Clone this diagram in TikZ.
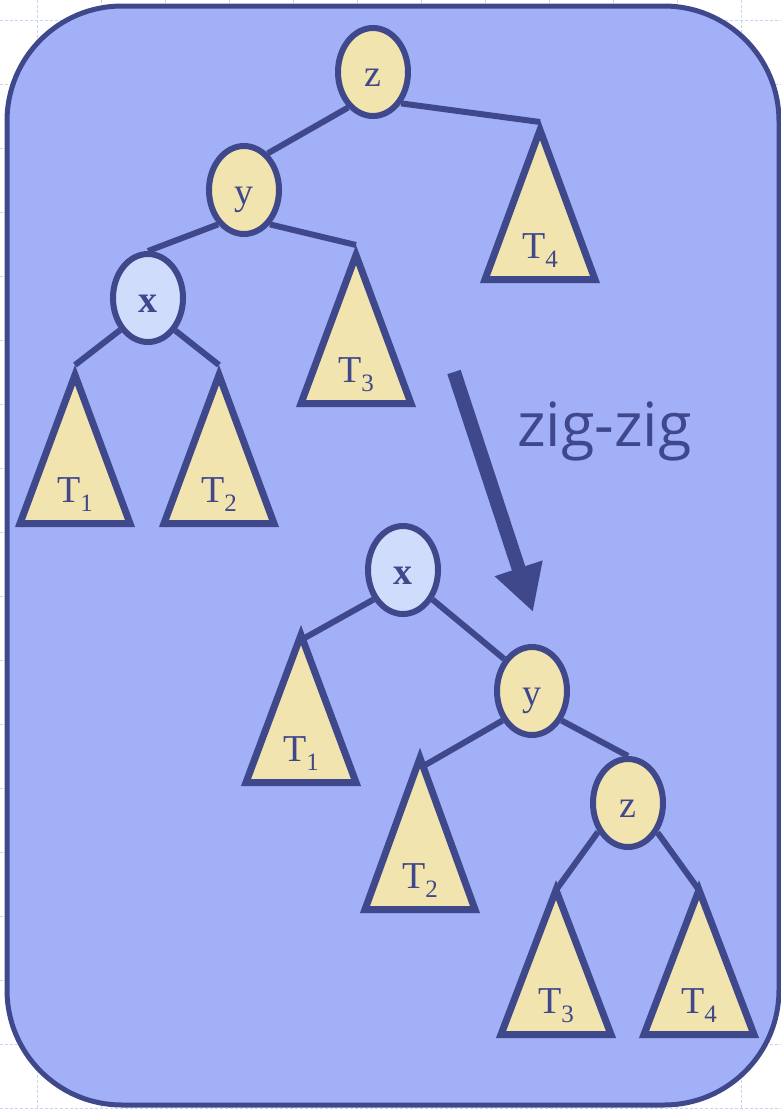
\documentclass[tikz,border=0pt]{standalone}
\usepackage{fontspec}
\setmainfont{Liberation Serif}
\newfontfamily\zigfont{Open Sans}
\usetikzlibrary{shapes.geometric,arrows.meta}

\definecolor{panel}{HTML}{A1B0F7}
\definecolor{ink}{HTML}{40488C}
\definecolor{sand}{HTML}{F2E4AE}
\definecolor{pale}{HTML}{D0DCFC}
\definecolor{gridc}{HTML}{C8D2F8}

\pgfdeclarelayer{back}
\pgfdeclarelayer{wires}
\pgfsetlayers{back,wires,main}

% subscript of a subtree label
\newcommand\lowidx[1]{\raisebox{-9pt}{\fontsize{25}{26}\selectfont #1}}

% subtree triangle: name, centre x, apex y, base y, index, edge attach depth
\newcommand\subtree[6]{%
  \coordinate (#1) at (#2,#3);
  \coordinate (#1-in) at (#2,#3+#6);
  \draw[tri] (#2,#3+10) -- (#2-55,#4-3.5) -- (#2+55,#4-3.5) -- cycle;
  \node[tlabel] (#1-lbl) at (#2,#4-25) {T\lowidx{#5}};
}

\tikzset{
  key/.style={ellipse, draw=ink, line width=6pt, fill=sand,
    minimum width=70pt, minimum height=88pt, inner sep=0pt,
    text height=28pt, text depth=0pt, text=ink,
    font=\fontsize{38}{40}\selectfont},
  focus/.style={key, fill=pale, font=\fontsize{38}{40}\selectfont\bfseries},
  tri/.style={draw=ink, line width=7pt, line join=miter, fill=sand},
  tlabel/.style={anchor=base, inner sep=0pt, text=ink,
    font=\fontsize{38}{40}\selectfont},
  branch/.style={draw=ink, line width=6pt},
  gridline/.style={draw=gridc, line width=0.8pt, dash pattern=on 3pt off 2pt},
}

\begin{document}
\begin{tikzpicture}[x=1pt, y=-1pt]
\useasboundingbox (0,0) rectangle (781,1109);

\begin{pgfonlayer}{back}
  % faint layout grid behind the panel
  \foreach \gx in {37,101,...,781} \draw[gridline] (\gx,0) -- (\gx,1109);
  \foreach \gy in {20,84,...,1109} \draw[gridline] (0,\gy) -- (781,\gy);
  % panel
  \draw[ink, line width=5pt, fill=panel, rounded corners=115pt]
    (7,6) rectangle (779,1105);
\end{pgfonlayer}

% ---------- before: z - y - x chain ----------
\node[key] (z1) at (373,72) {z};
\node[key] (y1) at (244,190) {y};
\node[focus] (x1) at (148,298) {x};
\subtree{A1}{75}{365}{527}{1}{0}
\subtree{A2}{219}{365}{527}{2}{0}
\subtree{A3}{356}{245}{407}{3}{0}
\subtree{A4}{540}{120}{283}{4}{2}

% ---------- after: x - y - z chain ----------
\node[focus] (x2) at (403,570) {x};
\node[key] (y2) at (532,691) {y};
\node[key] (z2) at (628,803) {z};
\subtree{B1}{301}{625}{786}{1}{15}
\subtree{B2}{420}{748}{913}{2}{20}
\subtree{B3}{556}{880}{1038}{3}{10}
\subtree{B4}{699}{880}{1038}{4}{10}

% branches, kept under the nodes and subtrees
\begin{pgfonlayer}{wires}
  \draw[branch] (z1.235) -- (y1.57);
  \draw[branch] (z1.-48) -- (A4-in);
  \draw[branch] (y1.233) -- (x1.north);
  \draw[branch] (y1.-53) -- (A3-in);
  \draw[branch] (x1.229) -- (A1-in);
  \draw[branch] (x1.-50) -- (A2-in);
  \draw[branch] (x2.225) -- (B1-in);
  \draw[branch] (x2.-45) -- (y2.131);
  \draw[branch] (y2.225) -- (B2-in);
  \draw[branch] (y2.-45) -- (z2.north);
  \draw[branch] (z2.224) -- (B3-in);
  \draw[branch] (z2.-45) -- (B4-in);
\end{pgfonlayer}

% rotation arrow and its name
\coordinate (arrS) at (454,372);
\coordinate (arrE) at (533,612);
\draw[ink, line width=14pt, -{Triangle[length=46pt,width=47pt]}] (arrS) -- (arrE);
\node[anchor=base west, inner sep=0pt, text=ink,
  font=\zigfont\fontsize{61}{64}\selectfont] (rot) at (517,446) {zig-zig};
\end{tikzpicture}
\end{document}
